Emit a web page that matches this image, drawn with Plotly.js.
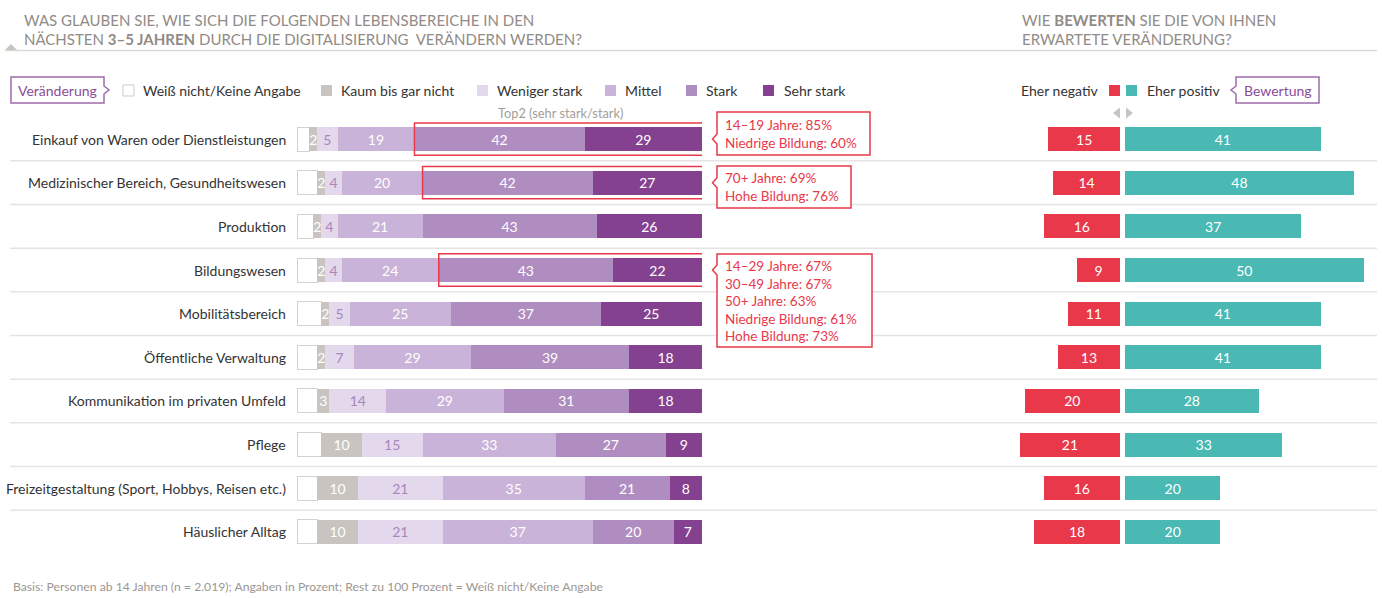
<!DOCTYPE html>
<html>
<head>
<meta charset="utf-8">
<script src="https://cdn.plot.ly/plotly-3.0.1.min.js"></script>
<style>html,body{margin:0;padding:0;background:#fff;}#chart{width:1382px;height:598px;}</style>
</head>
<body>
<div id="chart"></div>
<script>
// ---------- DATA ----------
const categories = [
  'Einkauf von Waren oder Dienstleistungen',
  'Medizinischer Bereich, Gesundheitswesen',
  'Produktion',
  'Bildungswesen',
  'Mobilitätsbereich',
  'Öffentliche Verwaltung',
  'Kommunikation im privaten Umfeld',
  'Pflege',
  'Freizeitgestaltung (Sport, Hobbys, Reisen etc.)',
  'Häuslicher Alltag'
];
const weissNicht      = [3, 5, 4, 5, 6, 5, 5, 6, 5, 5];
const kaumBisGarNicht = [2, 2, 2, 2, 2, 2, 3, 10, 10, 10];
const wenigerStark    = [5, 4, 4, 4, 5, 7, 14, 15, 21, 21];
const mittel          = [19, 20, 21, 24, 25, 29, 29, 33, 35, 37];
const stark           = [42, 42, 43, 43, 37, 39, 31, 27, 21, 20];
const sehrStark       = [29, 27, 26, 22, 25, 18, 18, 9, 8, 7];
const eherNegativ     = [15, 14, 16, 9, 11, 13, 20, 21, 16, 18];
const eherPositiv     = [41, 48, 37, 50, 41, 41, 28, 33, 20, 20];
const seriesNames = ['Weiß nicht/Keine Angabe', 'Kaum bis gar nicht', 'Weniger stark', 'Mittel', 'Stark', 'Sehr stark'];
const ratingNames = ['Eher negativ', 'Eher positiv'];
const top2Rows = [0, 1, 3];
const top2Notes = [
  ['14–19 Jahre: 85%', 'Niedrige Bildung: 60%'],
  ['70+ Jahre: 69%', 'Hohe Bildung: 76%'],
  ['14–29 Jahre: 67%', '30–49 Jahre: 67%', '50+ Jahre: 63%', 'Niedrige Bildung: 61%', 'Hohe Bildung: 73%']
];
const titleLeft = ['WAS GLAUBEN SIE, WIE SICH DIE FOLGENDEN LEBENSBEREICHE IN DEN',
  'NÄCHSTEN <b>3–5 JAHREN</b> DURCH DIE DIGITALISIERUNG  VERÄNDERN WERDEN?'];
const titleRight = ['WIE <b>BEWERTEN</b> SIE DIE VON IHNEN', 'ERWARTETE VERÄNDERUNG?'];
const footnote = 'Basis: Personen ab 14 Jahren (n = 2.019); Angaben in Prozent; Rest zu 100 Prozent = Weiß nicht/Keine Angabe';

// ---------- STYLE / LAYOUT ----------
const W = 1382, H = 598;
const px = x => x / W;
const py = y => 1 - y / H;
const FONT = 'Lato, "Open Sans", sans-serif';
const segColors = ['#ffffff', '#c9c4bf', '#e3d8ec', '#cab3d8', '#b08dc0', '#844190'];
const segText = [null, '#ffffff', '#a887bf', '#ffffff', '#ffffff', '#ffffff'];
const RED = '#e8384a', TEAL = '#4ab9b3', PURPLE_LINE = '#9d6bac', PURPLE_TEXT = '#8a4c98';
const GRAY_T = '#918b86';
const rowDomain = [py(553.8), py(117.2)];
const yAxisBase = {
  type: 'category', categoryarray: categories, range: [9.5, -0.5], autorange: false,
  domain: rowDomain, showgrid: false, zeroline: false, showticklabels: false, showline: false, ticks: ''
};
const hiddenX = {showgrid: false, zeroline: false, showticklabels: false, showline: false, ticks: '', fixedrange: true};

// ---------- TRACES ----------
const segData = [weissNicht, kaumBisGarNicht, wenigerStark, mittel, stark, sehrStark];
const traces = segData.map((vals, k) => ({
  type: 'bar', orientation: 'h', name: seriesNames[k],
  y: categories, x: vals, xaxis: 'x', yaxis: 'y', width: 0.55,
  marker: {color: segColors[k], line: {color: k === 0 ? '#d6d2ce' : 'rgba(0,0,0,0)', width: k === 0 ? 1 : 0}},
  texttemplate: k === 0 ? '' : '%{x}', textposition: k === 0 ? 'none' : 'inside',
  insidetextanchor: 'middle', textangle: 0,
  textfont: {family: FONT, size: 14, color: segText[k] || '#fff'},
  hoverinfo: 'skip', cliponaxis: false
}));
traces.push({
  type: 'bar', orientation: 'h', name: ratingNames[0], y: categories, x: eherNegativ,
  xaxis: 'x2', yaxis: 'y2', width: 0.55, marker: {color: RED},
  texttemplate: '%{x}', textposition: 'inside', insidetextanchor: 'middle', textangle: 0,
  textfont: {family: FONT, size: 14, color: '#fff'}, hoverinfo: 'skip'
});
traces.push({
  type: 'bar', orientation: 'h', name: ratingNames[1], y: categories, x: eherPositiv,
  xaxis: 'x3', yaxis: 'y3', width: 0.55, marker: {color: TEAL},
  texttemplate: '%{x}', textposition: 'inside', insidetextanchor: 'middle', textangle: 0,
  textfont: {family: FONT, size: 14, color: '#fff'}, hoverinfo: 'skip'
});

// ---------- SHAPES ----------
const shapes = [];
// header line + triangle
shapes.push({type: 'line', xref: 'paper', yref: 'paper', x0: px(5), x1: px(1377), y0: py(50.5), y1: py(50.5), line: {color: '#dcd9d5', width: 1.5}});
shapes.push({type: 'path', xref: 'paper', yref: 'paper',
  path: `M ${px(5)},${py(50)} L ${px(11)},${py(44)} L ${px(17)},${py(50)} Z`, fillcolor: '#c9c4bf', line: {width: 0}});
// row separators
for (let i = 0; i < categories.length - 1; i++) {
  shapes.push({type: 'line', xref: 'paper', yref: 'y', x0: px(10), x1: px(1377), y0: i + 0.5, y1: i + 0.5,
    line: {color: '#e6e4e2', width: 1.5}, layer: 'below'});
}
// legend box "Veränderung" (arrow right)
shapes.push({type: 'path', xref: 'paper', yref: 'paper',
  path: `M ${px(11)},${py(77)} L ${px(104)},${py(77)} L ${px(104)},${py(86)} L ${px(109)},${py(90)} L ${px(104)},${py(94)} L ${px(104)},${py(103)} L ${px(11)},${py(103)} Z`,
  fillcolor: '#fff', line: {color: PURPLE_LINE, width: 1.5}});
// legend box "Bewertung" (arrow left)
shapes.push({type: 'path', xref: 'paper', yref: 'paper',
  path: `M ${px(1319)},${py(77)} L ${px(1319)},${py(103)} L ${px(1236)},${py(103)} L ${px(1236)},${py(94)} L ${px(1231)},${py(90)} L ${px(1236)},${py(86)} L ${px(1236)},${py(77)} Z`,
  fillcolor: '#fff', line: {color: PURPLE_LINE, width: 1.5}});
// left legend squares
const legSq = [123, 321, 477, 605, 686, 763];
const legTx = [141, 339, 495, 623, 704, 782];
legSq.forEach((x, k) => {
  shapes.push({type: 'rect', xref: 'paper', yref: 'paper', x0: px(x), x1: px(x + 11), y0: py(96), y1: py(85),
    fillcolor: segColors[k], line: {color: k === 0 ? '#cfcbc7' : segColors[k], width: k === 0 ? 1 : 0}});
});
// right legend squares
shapes.push({type: 'rect', xref: 'paper', yref: 'paper', x0: px(1109), x1: px(1120), y0: py(96), y1: py(85), fillcolor: RED, line: {width: 0}});
shapes.push({type: 'rect', xref: 'paper', yref: 'paper', x0: px(1126), x1: px(1137), y0: py(96), y1: py(85), fillcolor: TEAL, line: {width: 0}});
// small direction triangles
shapes.push({type: 'path', xref: 'paper', yref: 'paper',
  path: `M ${px(1120)},${py(107.5)} L ${px(1113)},${py(113)} L ${px(1120)},${py(118.5)} Z`, fillcolor: '#c9c4bf', line: {width: 0}});
shapes.push({type: 'path', xref: 'paper', yref: 'paper',
  path: `M ${px(1126)},${py(107.5)} L ${px(1133)},${py(113)} L ${px(1126)},${py(118.5)} Z`, fillcolor: '#c9c4bf', line: {width: 0}});
// top2 highlight rectangles (data coords)
top2Rows.forEach(r => {
  shapes.push({type: 'rect', xref: 'x', yref: 'y', x0: 100 - stark[r] - sehrStark[r], x1: 101,
    y0: r - 0.37, y1: r + 0.37, line: {color: RED, width: 1.5}, fillcolor: 'rgba(0,0,0,0)', layer: 'above'});
});
// note boxes with notch
const noteBoxes = [{x0: 717, x1: 870, y0: 112, y1: 155}, {x0: 717, x1: 851, y0: 166, y1: 208}, {x0: 717, x1: 872, y0: 254, y1: 347}];
const rowCenterPx = r => 117.2 + (r + 0.5) * ((553.8 - 117.2) / categories.length);
noteBoxes.forEach((b, j) => {
  const c = rowCenterPx(top2Rows[j]);
  shapes.push({type: 'path', xref: 'paper', yref: 'paper',
    path: `M ${px(b.x0)},${py(b.y0)} L ${px(b.x1)},${py(b.y0)} L ${px(b.x1)},${py(b.y1)} L ${px(b.x0)},${py(b.y1)} L ${px(b.x0)},${py(c + 5)} L ${px(b.x0 - 4.5)},${py(c)} L ${px(b.x0)},${py(c - 5)} Z`,
    fillcolor: '#fff', line: {color: RED, width: 1.5}});
});

// ---------- ANNOTATIONS ----------
const ann = [];
const txt = (text, x, y, opts = {}) => Object.assign({
  text, xref: 'paper', yref: 'paper', x: px(x), y: py(y), xanchor: 'left', yanchor: 'middle',
  showarrow: false, font: {family: FONT, size: 14, color: '#333'}
}, opts);
ann.push(txt(titleLeft[0], 22, 19.5, {font: {family: FONT, size: 15, color: GRAY_T}}));
ann.push(txt(titleLeft[1], 22, 38.5, {font: {family: FONT, size: 15, color: GRAY_T}}));
ann.push(txt(titleRight[0], 1020, 19.5, {font: {family: FONT, size: 15, color: GRAY_T}}));
ann.push(txt(titleRight[1], 1020, 38.5, {font: {family: FONT, size: 15, color: GRAY_T}}));
ann.push(txt('Veränderung', 57.5, 90, {xanchor: 'center', font: {family: FONT, size: 14, color: PURPLE_TEXT}}));
ann.push(txt('Bewertung', 1277.5, 90, {xanchor: 'center', font: {family: FONT, size: 14, color: PURPLE_TEXT}}));
seriesNames.forEach((n, k) => ann.push(txt(n, legTx[k], 90.5)));
ann.push(txt(ratingNames[0], 1101, 90.5, {xanchor: 'right'}));
ann.push(txt(ratingNames[1], 1145, 90.5));
ann.push(txt('Top2 (sehr stark/stark)', 496, 113, {font: {family: FONT, size: 12.8, color: '#a39e99'}}));
categories.forEach(c => ann.push({
  text: c, xref: 'paper', yref: 'y', x: px(288), y: c, xanchor: 'right', yanchor: 'middle',
  showarrow: false, font: {family: FONT, size: 14, color: '#333'}
}));
noteBoxes.forEach((b, j) => ann.push(txt(top2Notes[j].join('<br>'), b.x0 + 6, (b.y0 + b.y1) / 2,
  {align: 'left', font: {family: FONT, size: 13.5, color: RED}})));
ann.push(txt(footnote, 11, 586, {font: {family: FONT, size: 12.2, color: '#9c9792'}}));

const layout = {
  width: W, height: H, margin: {l: 0, r: 0, t: 0, b: 0, pad: 0},
  paper_bgcolor: '#fff', plot_bgcolor: 'rgba(0,0,0,0)',
  barmode: 'stack', bargap: 0, showlegend: false, hovermode: false,
  uniformtext: {mode: 'show', minsize: 14},
  font: {family: FONT},
  xaxis: Object.assign({domain: [px(297), px(702)], range: [0, 100], autorange: false, anchor: 'y'}, hiddenX),
  xaxis2: Object.assign({domain: [px(1000), px(1120)], range: [120 / 4.77, 0], autorange: false, anchor: 'y2'}, hiddenX),
  xaxis3: Object.assign({domain: [px(1125), 1], range: [0, 257 / 4.77], autorange: false, anchor: 'y3'}, hiddenX),
  yaxis: Object.assign({anchor: 'x'}, yAxisBase),
  yaxis2: Object.assign({anchor: 'x2'}, yAxisBase),
  yaxis3: Object.assign({anchor: 'x3'}, yAxisBase),
  shapes, annotations: ann
};
Plotly.newPlot('chart', traces, layout, {staticPlot: true, displayModeBar: false});
</script>
</body>
</html>
